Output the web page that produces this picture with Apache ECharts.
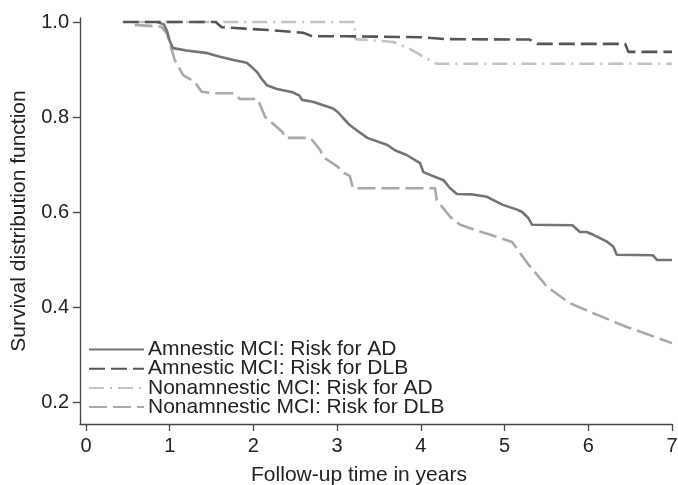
<!DOCTYPE html>
<html>
<head>
<meta charset="utf-8">
<script src="https://cdn.jsdelivr.net/npm/echarts@6/dist/echarts.min.js"></script>
<style>html,body{margin:0;padding:0;background:#fff}#c{width:678px;height:485px}</style>
</head>
<body>
<div id="c"></div>
<script>
const seriesNames = ["Amnestic MCI: Risk for AD", "Amnestic MCI: Risk for DLB", "Nonamnestic MCI: Risk for AD", "Nonamnestic MCI: Risk for DLB"];
const xTicks = [0, 1, 2, 3, 4, 5, 6, 7];
const yTicks = [0.2, 0.4, 0.6, 0.8, 1.0];

const amnesticAD = [[0.85,1.0],[0.93,0.995],[0.97,0.98],[1.0,0.96],[1.04,0.945],[1.2,0.94],[1.43,0.935],[1.6,0.927],[1.76,0.92],[1.92,0.914],[1.98,0.905],[2.04,0.895],[2.1,0.88],[2.16,0.867],[2.28,0.859],[2.47,0.852],[2.55,0.845],[2.58,0.836],[2.71,0.832],[2.95,0.818],[3.01,0.81],[3.06,0.8],[3.15,0.783],[3.25,0.77],[3.36,0.756],[3.6,0.741],[3.69,0.73],[3.83,0.72],[3.99,0.703],[4.03,0.684],[4.27,0.667],[4.35,0.65],[4.43,0.638],[4.62,0.637],[4.79,0.632],[4.98,0.615],[5.15,0.605],[5.21,0.6],[5.28,0.588],[5.33,0.573],[5.81,0.572],[5.9,0.558],[5.98,0.558],[6.06,0.552],[6.23,0.537],[6.3,0.527],[6.34,0.51],[6.77,0.509],[6.82,0.499],[7.0,0.499]];
const amnesticDLB = [[0.44,1.0],[1.55,1.0],[1.62,0.989],[1.9,0.986],[2.2,0.983],[2.6,0.977],[2.7,0.97],[3.1,0.97],[4.0,0.968],[4.3,0.964],[5.3,0.963],[5.39,0.954],[6.44,0.954],[6.48,0.937],[7.0,0.937]];
const nonamnesticAD = [[0.6,1.0],[3.2,1.0],[3.22,0.964],[3.67,0.958],[3.85,0.945],[4.0,0.93],[4.19,0.912],[7.0,0.912]];
const nonamnesticDLB = [[0.58,0.994],[0.9,0.99],[0.97,0.975],[1.0,0.956],[1.06,0.92],[1.16,0.888],[1.3,0.874],[1.38,0.853],[1.52,0.85],[1.76,0.85],[1.84,0.838],[2.05,0.838],[2.14,0.8],[2.22,0.788],[2.35,0.768],[2.38,0.756],[2.68,0.756],[2.8,0.73],[2.83,0.716],[3.01,0.695],[3.06,0.684],[3.15,0.676],[3.19,0.65],[4.17,0.65],[4.19,0.625],[4.35,0.59],[4.47,0.573],[4.59,0.566],[5.09,0.537],[5.27,0.493],[5.51,0.442],[5.78,0.408],[6.06,0.387],[6.46,0.358],[7.0,0.324]];

const FONT = "'Liberation Sans', Arial, Helvetica, sans-serif";
const chart = echarts.init(document.getElementById('c'), null, {renderer: 'canvas'});

function mk(name, data, color, dash, z) {
  return {
    name: name, type: 'line', data: data, symbol: 'none', showSymbol: false, smooth: false, z: z,
    lineStyle: {color: color, width: 2.6, type: dash, cap: 'butt'},
    itemStyle: {color: color},
    emphasis: {disabled: true}, animation: false
  };
}

chart.setOption({
  animation: false,
  grid: {left: 80, right: 6, top: 18, bottom: 61, containLabel: false, outerBoundsMode: 'none'},
  legend: {
    orient: 'vertical', left: 88, top: 339, padding: 0,
    itemWidth: 55, itemHeight: 10, itemGap: -1.8,
    itemStyle: {opacity: 0},
    data: seriesNames,
    textStyle: {fontFamily: FONT, fontSize: 21, color: '#222', padding: [0,0,0,-1]},
    selectedMode: false
  },
  xAxis: {
    type: 'value', min: -0.0717, max: 7,
    name: 'Follow-up time in years', nameLocation: 'middle', nameGap: 41, nameMoveOverlap: false,
    nameTextStyle: {fontFamily: FONT, fontSize: 21, color: '#222', padding: [0, 34, 0, 0]},
    axisLine: {show: true, onZero: false, lineStyle: {color: '#444', width: 1.3}},
    axisTick: {show: true, length: 7, customValues: xTicks, lineStyle: {color: '#444', width: 1.3}},
    axisLabel: {customValues: xTicks, fontFamily: FONT, fontSize: 20, color: '#222', margin: 12},
    splitLine: {show: false}
  },
  yAxis: {
    type: 'value', min: 0.1537, max: 1.0084,
    name: 'Survival distribution function', nameLocation: 'middle', nameGap: 50, nameMoveOverlap: false,
    nameTextStyle: {fontFamily: FONT, fontSize: 21, color: '#222'},
    axisLine: {show: true, onZero: false, lineStyle: {color: '#444', width: 1.3}},
    axisTick: {show: true, length: 7, customValues: yTicks, lineStyle: {color: '#444', width: 1.3}},
    axisLabel: {customValues: yTicks, fontFamily: FONT, fontSize: 20, color: '#222', margin: 11,
      formatter: v => v.toFixed(1)},
    splitLine: {show: false}
  },
  series: [
    mk(seriesNames[0], amnesticAD, '#737373', 'solid', 4),
    mk(seriesNames[1], amnesticDLB, '#555555', [16, 6], 5),
    mk(seriesNames[2], nonamnesticAD, '#c2c2c2', [15, 6, 2, 6], 2),
    mk(seriesNames[3], nonamnesticDLB, '#a9a9a9', [18, 6], 3)
  ]
});
</script>
</body>
</html>
